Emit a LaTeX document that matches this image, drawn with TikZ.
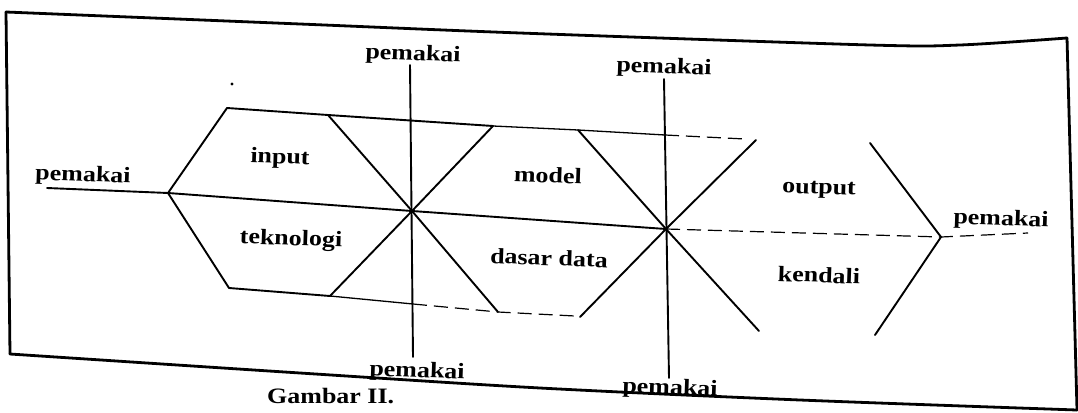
\documentclass[tikz,border=0pt]{standalone}
\usepackage{fontspec}
\newfontfamily\lblfont[FakeStretch=1.18]{Liberation Serif}
\begin{document}
\begin{tikzpicture}[x=1pt,y=-1pt,
  frame/.style={line width=2.8pt, line join=miter, line cap=round},
  ln/.style={line width=1.9pt, line cap=round},
  thinln/.style={line width=1.3pt},
  faint/.style={line width=1.2pt, dash pattern=on 14pt off 7pt},
  lbl/.style={font=\lblfont\bfseries\fontsize{22}{24}\selectfont, inner sep=0pt, rotate=-2}]
\useasboundingbox (0,0) rectangle (1078,412);
\clip (0,0) rectangle (1078,412);
% frame
\coordinate (FTL) at (6,12);
\coordinate (FTR) at (1067,38);
\coordinate (FBR) at (1077,410);
\coordinate (FBL) at (10,354);
\draw[frame] (FBL) -- (FTL);
\draw[frame] plot[smooth, tension=0.5] coordinates {(6,12) (300,24) (520,33) (870,45) (960,45) (1067,38)};
\draw[frame] (FTR) -- (FBR);
\draw[frame] plot[smooth, tension=0.5] coordinates {(10,354) (300,373) (540,388) (800,400) (1077,410)};
% inner points
\coordinate (L0) at (47,188);
\coordinate (HL) at (168,193);
\coordinate (HTL) at (227,108);
\coordinate (HBL) at (229,288);
\coordinate (A1) at (328,115);
\coordinate (B1) at (330,296);
\coordinate (C1) at (412,211);
\coordinate (A2) at (493,126);
\coordinate (B2) at (498,312);
\coordinate (V1t) at (410,65);
\coordinate (V1b) at (413,357);
\coordinate (A3) at (578,130);
\coordinate (B3) at (580,317);
\coordinate (C2) at (666,229);
\coordinate (A4) at (756,140);
\coordinate (B4) at (759,331);
\coordinate (V2t) at (664,79);
\coordinate (V2b) at (669,378);
\coordinate (T2) at (665,135);
\coordinate (T5) at (745,139);
\coordinate (Bm) at (413,304);
\coordinate (B5) at (575,316);
\coordinate (R) at (941,237);
\coordinate (Rt) at (870,143);
\coordinate (Rb) at (875,335);
\coordinate (Rend) at (1028,233);
\coordinate (speck) at (232,84);
% middle line
\draw[ln] (L0) -- (HL) -- (C1) -- (C2);
\draw[faint] (C2) -- (R) -- (Rend);
% top line
\draw[ln] (HTL) -- (A1) -- (A2);
\draw[thinln] (A2) -- (A3) -- (T2);
\draw[faint] (T2) -- (T5);
% bottom line
\draw[ln] (HBL) -- (B1);
\draw[thinln] (B1) -- (Bm);
\draw[faint] (Bm) -- (B2) -- (B5);
% hexagon left side
\draw[ln] (HTL) -- (HL) -- (HBL);
% crossing 1
\draw[ln] (A1) -- (C1) -- (B2);
\draw[ln] (B1) -- (C1) -- (A2);
\draw[ln] (V1t) -- (V1b);
% crossing 2
\draw[ln] (A3) -- (C2) -- (B4);
\draw[ln] (B3) -- (C2) -- (A4);
\draw[ln] (V2t) -- (V2b);
% right chevron
\draw[ln] (Rt) -- (R) -- (Rb);
\fill (speck) circle (1.6);
% labels
\node[lbl] (pL) at (83,176) {pemakai};
\node[lbl] (pT1) at (413,55) {pemakai};
\node[lbl] (pT2) at (664,68) {pemakai};
\node[lbl] (pB1) at (417,372) {pemakai};
\node[lbl] (pB2) at (670,389) {pemakai};
\node[lbl] (pR) at (1001,220) {pemakai};
\node[lbl] (input) at (280,158) {input};
\node[lbl] (tek) at (291,240) {teknologi};
\node[lbl] (model) at (548,175) {model};
\node[lbl] (dasar) at (549,258) {dasar data};
\node[lbl] (output) at (819,190) {output};
\node[lbl] (kendali) at (819,275) {kendali};
\node[lbl, rotate=2, anchor=base west] (cap) at (267,403) {Gambar II.};
\end{tikzpicture}
\end{document}
